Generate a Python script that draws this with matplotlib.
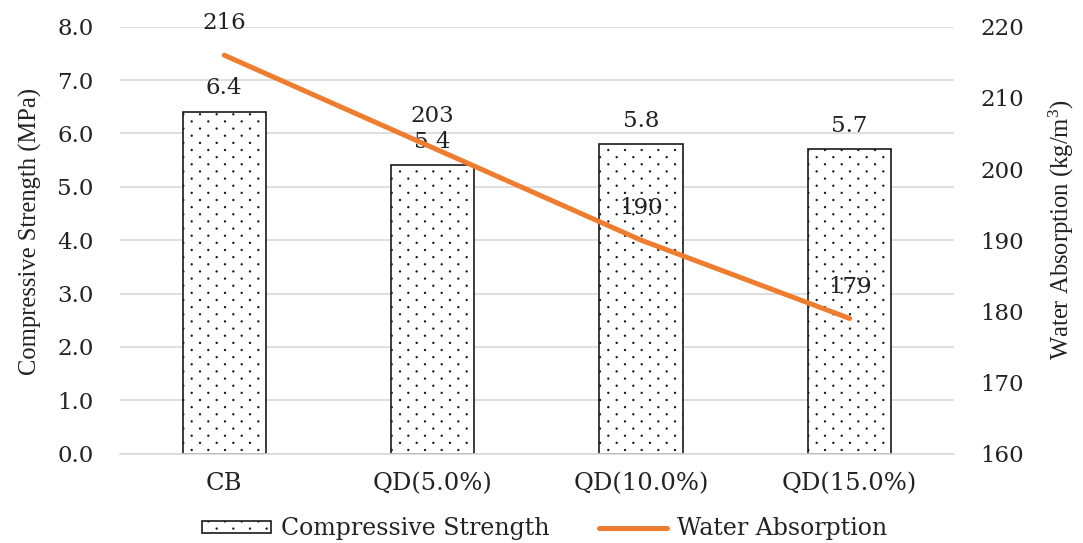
import numpy as np
import matplotlib
matplotlib.use("Agg")
import matplotlib.pyplot as plt
from matplotlib import hatch as mhatch
from matplotlib.path import Path

plt.rcParams['font.family'] = ['DejaVu Serif']
plt.rcParams['mathtext.fontset'] = 'custom'
plt.rcParams['mathtext.rm'] = 'Liberation Serif'
plt.rcParams['mathtext.default'] = 'regular'
plt.rcParams['hatch.linewidth'] = 0.8
plt.rcParams['hatch.color'] = '#333333'


class SparseDots(mhatch.HatchPatternBase):
    """Small staggered dots: wide column spacing, tight row spacing."""
    cols_per_unit = 6
    rows_per_unit = 14
    radius = 0.006

    def __init__(self, hatch, density):
        n = hatch.count('.')
        self.dots = []
        if n == 0:
            self.num_vertices = 0
            return
        nx = self.cols_per_unit * n
        ny = self.rows_per_unit * n
        circle = Path.unit_circle()
        self.shape_vertices = circle.vertices * self.radius
        self.shape_codes = circle.codes
        for row in range(ny + 1):
            y = row / ny
            if row % 2 == 0:
                xs = np.linspace(0, 1, nx + 1)
            else:
                xs = (np.arange(nx) + 0.5) / nx
            for xx in xs:
                self.dots.append((xx, y))
        self.num_vertices = len(self.dots) * len(self.shape_vertices)

    def set_vertices_and_codes(self, vertices, codes):
        nv = len(self.shape_vertices)
        for i, (xx, yy) in enumerate(self.dots):
            vertices[i * nv:(i + 1) * nv] = self.shape_vertices + (xx, yy)
            codes[i * nv:(i + 1) * nv] = self.shape_codes


mhatch._hatch_types[:] = [SparseDots if t is mhatch.SmallFilledCircles else t
                          for t in mhatch._hatch_types]

categories = ['CB', 'QD(5.0%)', 'QD(10.0%)', 'QD(15.0%)']
strength = [6.4, 5.4, 5.8, 5.7]
absorption = [216, 203, 190, 179]
left_ticks = [0, 1, 2, 3, 4, 5, 6, 7, 8]
right_ticks = [160, 170, 180, 190, 200, 210, 220]

text_color = '#222222'
title_font = 'Liberation Serif'

fig = plt.figure(figsize=(10.83, 5.43), dpi=100)
ax = fig.add_axes([0.1108, 0.1645, 0.770, 0.7863])
x = list(range(len(categories)))

ax.set_axisbelow(True)
ax.yaxis.grid(True, color='#d9d9d9', linewidth=1.2)
bars = ax.bar(x, strength, width=0.40, facecolor='white', edgecolor='#1a1a1a',
              linewidth=1.2, hatch='.', label='Compressive Strength', zorder=2)
ax.set_xlim(-0.5, 3.5)
ax.set_ylim(0, 8)
ax.set_yticks(left_ticks)
ax.set_yticklabels([f'{v:.1f}' for v in left_ticks])
ax.set_xticks(x)
ax.set_xticklabels(categories, fontsize=17.5)
for s in ['top', 'left', 'right']:
    ax.spines[s].set_visible(False)
ax.spines['bottom'].set_color('#d9d9d9')
ax.spines['bottom'].set_linewidth(1.2)
ax.tick_params(axis='y', length=0, labelsize=16.5, colors=text_color, pad=19)
ax.tick_params(axis='x', length=0, colors=text_color, pad=13)
ax.set_ylabel('Compressive Strength (MPa)', fontsize=17.7, family=title_font,
              color=text_color)
ax.yaxis.set_label_coords(-0.093, 0.52)

for xi, v in zip(x, strength):
    ax.annotate(f'{v:.1f}', (xi, v), xytext=(0, 17), textcoords='offset points',
                ha='center', va='center', fontsize=16.5, color=text_color, zorder=5)

ax2 = ax.twinx()
ax2.plot(x, absorption, color='#ED7D31', linewidth=3.6, solid_capstyle='round',
         label='Water Absorption', zorder=3)
ax2.set_ylim(160, 220)
ax2.set_yticks(right_ticks)
ax2.set_yticklabels([str(v) for v in right_ticks])
for s in ['top', 'left', 'right', 'bottom']:
    ax2.spines[s].set_visible(False)
ax2.tick_params(axis='y', length=0, labelsize=16.5, colors=text_color, pad=19)
ax2.set_ylabel('Water Absorption (kg/m$^{3}$)', fontsize=17.7, family=title_font,
               color=text_color)
ax2.yaxis.set_label_coords(1.111, 0.525)

for xi, v in zip(x, absorption):
    ax2.annotate(f'{v}', (xi, v), xytext=(0, 23), textcoords='offset points',
                 ha='center', va='center', fontsize=16.5, color=text_color, zorder=5)

handles = [bars, ax2.get_lines()[0]]
leg = fig.legend(handles, ['Compressive Strength', 'Water Absorption'],
                 loc='center', bbox_to_anchor=(0.503, 0.026), ncol=2, frameon=False,
                 fontsize=17, handlelength=2.9, handleheight=0.42,
                 columnspacing=2.1, handletextpad=0.42, labelcolor=text_color)

fig.savefig('out.png', dpi=100)
